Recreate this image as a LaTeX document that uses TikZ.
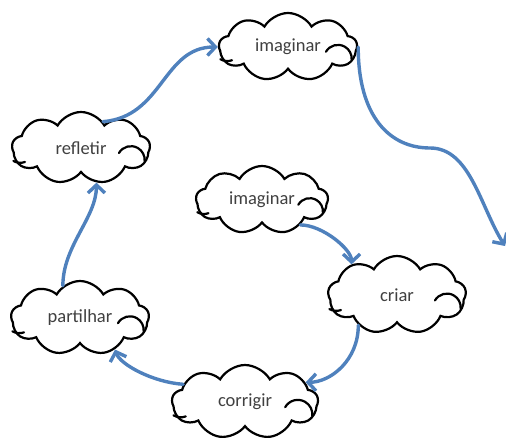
\documentclass[tikz,border=0pt]{standalone}
\usepackage{fontspec}
\setmainfont{Carlito}
\usetikzlibrary{shapes.symbols,arrows.meta}
\definecolor{flowblue}{RGB}{79,129,189}
\newcommand\cloudcurls[3]{%
  \draw[curl] ([shift={(0.55*#2,-0.14*#3)}]#1.center) arc[start angle=150, end angle=-5, radius=0.2*#2];
  \draw[curl] ([shift={(-0.98*#2,-0.36*#3)}]#1.center) arc[start angle=240, end angle=290, radius=0.2*#2];
}
\begin{document}
\begin{tikzpicture}[x=1pt,y=1pt,
  cloudbox/.style={cloud, cloud puffs=9, cloud puff arc=120, cloud ignores aspect,
    draw=black, line width=2.2pt, fill=white, minimum width=138pt, minimum height=68pt,
    font=\fontsize{18.5}{22}\selectfont, text=black!75},
  curl/.style={draw=black, line width=2.2pt, line cap=round},
  flow/.style={draw=flowblue, line width=3.4pt, line cap=round,
    -{Straight Barb[length=8pt,width=17pt,line width=3.4pt]}}]
\useasboundingbox (0,0) rectangle (506,440);
\node[cloudbox] (im1) at (288,393) {imaginar};
\node[cloudbox, minimum height=72pt] (refl) at (81,292) {refletir};
\node[cloudbox, minimum width=132pt] (im2) at (262,240) {imaginar};
\node[cloudbox, minimum height=78pt] (criar) at (397,145) {criar};
\node[cloudbox, minimum height=74pt] (part) at (80,122) {partilhar};
\node[cloudbox, minimum width=146pt, minimum height=74pt] (corr) at (245,38) {corrigir};
\cloudcurls{im1}{69}{34}
\cloudcurls{refl}{69}{36}
\cloudcurls{im2}{66}{34}
\cloudcurls{criar}{69}{39}
\cloudcurls{part}{69}{37}
\cloudcurls{corr}{73}{37}
\coordinate (out) at (505,194);
\draw[flow] (refl.50) .. controls +(60,5) and +(-55,0) .. (im1.west);
\draw[flow] (im1.east) .. controls +(0,-70) and +(-40,0) .. (430,292) .. controls +(40,0) and +(-25,40) .. (out);
\draw[flow] (im2.-33) .. controls +(22,0) and +(0,15) .. (criar.146);
\draw[flow] (criar.-142) .. controls +(0,-35) and +(25,0) .. (corr.18);
\draw[flow] (corr.164) .. controls +(-30,2) and +(5,-15) .. (part.-42);
\draw[flow] (part.118) .. controls +(0,40) and +(0,-35) .. (refl.-66);
\end{tikzpicture}
\end{document}
